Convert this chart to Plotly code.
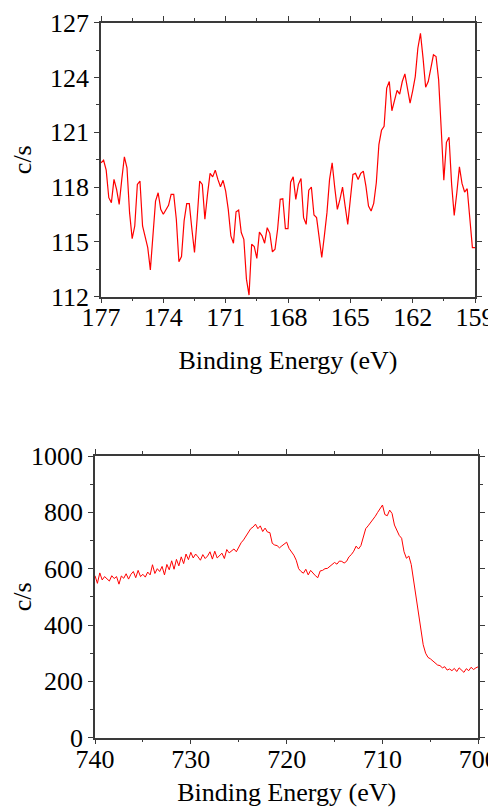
import numpy as np
import plotly.graph_objects as go

# ---------------- data ----------------
# Top spectrum (S 2p region): 177 -> 159 eV, 0.125 eV step
top_start, top_end = 177.0, 159.0
top_counts = [
    119.33, 119.47, 118.93, 117.42, 117.15, 118.42, 117.87, 117.05, 118.42, 119.66,
    119.06, 116.60, 115.18, 115.87, 118.15, 118.33, 115.87, 115.33, 114.69, 113.47,
    115.14, 117.23, 117.69, 116.78, 116.51, 116.74, 117.00, 117.60, 117.60, 116.24,
    113.91, 114.20, 116.15, 117.09, 117.09, 115.69, 114.42, 116.24, 118.33, 118.15,
    116.24, 117.60, 118.75, 118.56, 118.93, 118.42, 118.02, 118.37, 117.78, 116.78,
    115.33, 114.93, 116.65, 116.74, 115.51, 115.14, 112.96, 112.09, 114.87, 114.75,
    114.10, 115.54, 115.33, 114.93, 115.78, 115.47, 114.45, 114.60, 115.69,
    117.33, 117.36, 115.73, 115.73, 118.27, 118.56, 117.33, 118.15, 118.47, 116.33,
    115.96, 117.83, 118.00, 116.47, 116.33, 115.29, 114.15, 115.33, 116.60, 118.42,
    119.33, 117.97, 116.78, 117.33, 118.00, 116.96, 115.96, 117.33, 118.69, 118.75,
    118.42, 118.75, 118.87, 118.05, 116.96, 116.69, 117.11, 118.24, 120.33, 121.11,
    121.33, 123.42, 123.78, 122.18, 122.78, 123.29, 123.09, 123.78, 124.20, 123.42,
    122.60, 123.27, 124.05, 125.60, 126.42, 125.06, 123.47, 123.78, 124.51, 125.24,
    125.15, 123.87, 121.15, 118.38, 120.45, 120.73, 118.15, 116.45, 117.69, 119.11,
    118.20, 117.73, 117.91, 116.42, 114.69, 114.69,
]

# Bottom spectrum (Fe 2p region): 740 -> 700 eV, 0.25 eV step
bot_start, bot_end = 740.0, 700.0
bot_counts = [
    575, 548, 585, 560, 572, 562, 556, 575, 565, 572,
    545, 574, 566, 582, 563, 580, 590, 568, 594, 572,
    580, 570, 588, 578, 614, 583, 600, 590, 608, 578,
    615, 596, 628, 598, 633, 610, 642, 618, 652, 632,
    658, 638, 652, 642, 630, 650, 636, 645, 660, 634,
    662, 638, 648, 655, 636, 668, 656, 662, 670, 660,
    678, 692, 702, 715, 725, 742, 748, 758, 742, 752,
    732, 744, 730, 728, 690, 684, 682, 674, 681, 686,
    694, 672, 660, 648, 630, 600, 590, 584, 598, 578,
    594, 583, 575, 568, 592, 594, 600, 601, 608, 612,
    622, 616, 627, 626, 620, 626, 642, 650, 662, 680,
    670, 682, 715, 742, 752, 762, 775, 786, 800, 812,
    826, 792, 788, 808, 796, 755, 735, 718, 708, 660,
    637, 645, 615, 555, 500, 440, 380, 330, 300, 285,
    280, 272, 264, 258, 256, 248, 252, 240, 244, 238,
    246, 235, 248, 240, 232, 245, 238, 250, 242, 248,
    252,
]

top_yticks = [112, 115, 118, 121, 124, 127]
top_xticks = [177, 174, 171, 168, 165, 162, 159]
bot_yticks = [0, 200, 400, 600, 800, 1000]
bot_xticks = [740, 730, 720, 710, 700]

top_x = np.linspace(top_start, top_end, len(top_counts))
bot_x = np.linspace(bot_start, bot_end, len(bot_counts))

# ---------------- figure ----------------
# The page has an 8px body margin, so the figure is sized to fill the rest
OFF = 8
W, H = 496 - OFF, 807 - OFF
FONT = "Liberation Serif"
AX = "#3a3a3a"

fig = go.Figure()
fig.add_trace(go.Scatter(x=top_x, y=top_counts, mode="lines",
                         line=dict(color="#ff0000", width=1.2),
                         xaxis="x", yaxis="y", showlegend=False))
fig.add_trace(go.Scatter(x=bot_x, y=bot_counts, mode="lines",
                         line=dict(color="#ff0000", width=1.0),
                         xaxis="x2", yaxis="y2", showlegend=False))


def xdom(a, b):
    return [(a - OFF) / W, (b - OFF) / W]


def ydom(top, bottom):
    return [(807 - bottom) / H, (807 - top) / H]


common = dict(showgrid=False, zeroline=False, showline=True, linecolor=AX,
              linewidth=1.5, ticks="outside", ticklen=5, tickwidth=1.2,
              tickcolor=AX, mirror="allticks", automargin=False,
              ticklabeloverflow="allow",
              tickfont=dict(family=FONT, size=26, color="black"))
tfont = dict(family=FONT, size=26, color="black")

fig.update_layout(
    width=W, height=H,
    margin=dict(l=0, r=0, t=0, b=0, autoexpand=False),
    paper_bgcolor="white", plot_bgcolor="white",
    font=dict(family=FONT, color="black"),
    xaxis=dict(**common, domain=xdom(101, 475), anchor="y",
               range=[top_start, top_end], tickvals=top_xticks,
               ticklabelstandoff=-9,
               minor=dict(dtick=1.5, tick0=159, ticklen=3, tickcolor=AX, ticks="outside"),
               title=dict(text="Binding Energy (eV)", font=tfont, standoff=20)),
    yaxis=dict(**common, domain=ydom(22.7, 296.7), anchor="x",
               range=[112, 127], tickvals=top_yticks,
               minor=dict(dtick=1.5, tick0=112, ticklen=3, tickcolor=AX, ticks="outside"),
               title=dict(text="c/s", font=tfont, standoff=12)),
    xaxis2=dict(**common, domain=xdom(95, 478.3), anchor="y2",
                range=[bot_start, bot_end], tickvals=bot_xticks,
                ticklabelstandoff=-8,
                minor=dict(dtick=5, tick0=700, ticklen=3, tickcolor=AX, ticks="outside"),
                title=dict(text="Binding Energy (eV)", font=tfont, standoff=14)),
    yaxis2=dict(**common, domain=ydom(456, 737.7), anchor="x2",
                range=[0, 1000], tickvals=bot_yticks,
                minor=dict(dtick=100, tick0=0, ticklen=3, tickcolor=AX, ticks="outside"),
                title=dict(text="c/s", font=tfont, standoff=8)),
)

fig.write_html("out.html")
